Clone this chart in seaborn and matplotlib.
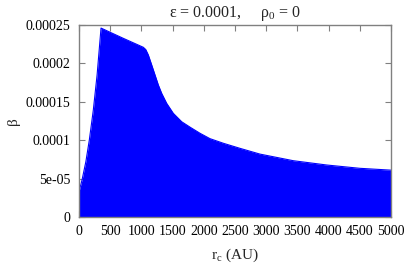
import numpy as np
import matplotlib
matplotlib.use("Agg")
import matplotlib.pyplot as plt
import seaborn as sns

# values
r_c = [0, 48, 110, 165, 229, 290, 353, 700, 1030, 1070, 1111, 1165, 1218, 1271,
       1325, 1405, 1511, 1646, 1779, 1939, 2099, 2313, 2580, 2900, 3434, 3970,
       4500, 5000]
beta = [0.000033, 0.000048, 0.000072, 0.000100, 0.000139, 0.000185, 0.000246,
        0.000233, 0.000221, 0.000218, 0.000211, 0.000198, 0.000185, 0.000172,
        0.000161, 0.000148, 0.000135, 0.000124, 0.000117, 0.000109, 0.000102,
        0.0000960, 0.0000894, 0.0000819, 0.0000733, 0.0000677, 0.0000634,
        0.0000610]

x_ticks = [0, 500, 1000, 1500, 2000, 2500, 3000, 3500, 4000, 4500, 5000]
y_ticks = [0, 0.00005, 0.0001, 0.00015, 0.0002, 0.00025]
y_tick_labels = ["0", "5e-05", "0.0001", "0.00015", "0.0002", "0.00025"]

sns.set_theme(style="ticks")
plt.rcParams['font.family'] = ['Liberation Serif', 'DejaVu Serif']
plt.rcParams['mathtext.fontset'] = 'custom'
plt.rcParams['mathtext.rm'] = 'Liberation Serif'
plt.rcParams['mathtext.it'] = 'Liberation Serif'

fig = plt.figure(figsize=(4.07, 2.71), dpi=100)
ax = fig.add_axes([79/407, 1 - 217/271, 312/407, 192/271])

sns.lineplot(x=r_c, y=beta, ax=ax, color='#0000ff', linewidth=0.8)
ax.fill_between(r_c, beta, 0, color='#0000ff', linewidth=0)

ax.set_xlim(0, 5000)
ax.set_ylim(0, 0.00025)
ax.set_xticks(x_ticks)
ax.set_xticklabels([str(t) for t in x_ticks])
ax.set_yticks(y_ticks)
ax.set_yticklabels(y_tick_labels)
ax.tick_params(direction='in', length=4, width=0.8, color='#808080',
               labelsize=10, labelcolor='black', top=True, right=True, pad=6)
for s in ax.spines.values():
    s.set_color('#808080')
    s.set_linewidth(1.0)

ax.set_xlabel(r"r$_\mathrm{c}$ (AU)", fontsize=11, labelpad=6)
ax.set_ylabel("β", fontsize=11, labelpad=4)
ax.set_title(r"ε = 0.0001,     ρ$_\mathrm{0}$ = 0", fontsize=11.5, pad=6)

fig.savefig("out.png", dpi=100)
